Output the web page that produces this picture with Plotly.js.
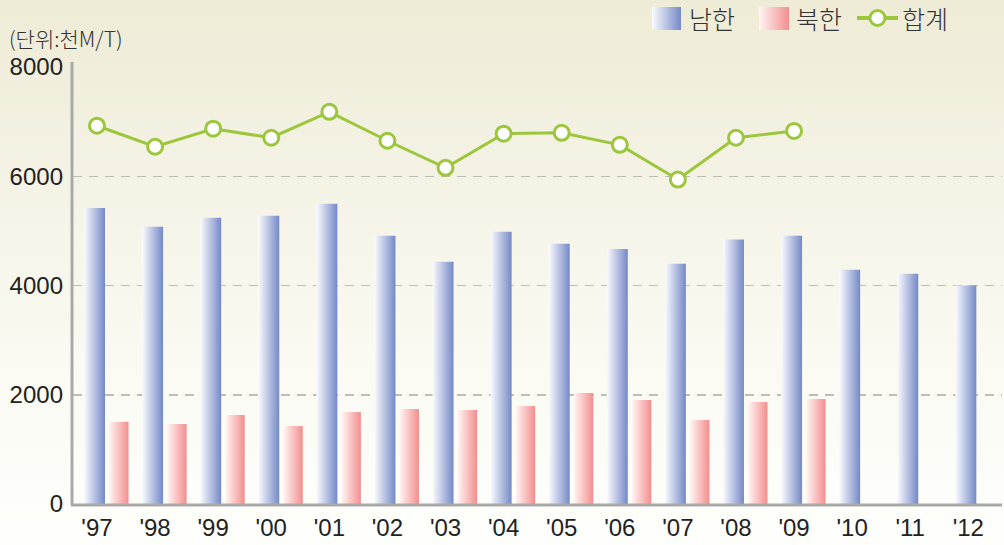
<!DOCTYPE html>
<html>
<head>
<meta charset="utf-8">
<script src="https://cdn.plot.ly/plotly-3.0.1.min.js"></script>
<style>
  html, body { margin: 0; padding: 0; }
  #chart { width: 1004px; height: 545px; background: linear-gradient(to bottom, #eeebd6 0%, #f5f3e6 35%, #fbfbf4 70%, #fefefc 100%); }
</style>
</head>
<body>
<div id="chart"></div>
<script>
// ---- data ----
var years = ["'97","'98","'99","'00","'01","'02","'03","'04","'05","'06","'07","'08","'09","'10","'11","'12"];
var south = [5420, 5075, 5240, 5275, 5495, 4910, 4435, 4985, 4765, 4670, 4400, 4840, 4910, 4290, 4215, 4000];
var north = [1505, 1465, 1630, 1430, 1685, 1740, 1720, 1795, 2030, 1905, 1540, 1865, 1920, null, null, null];
var total = [6925, 6540, 6870, 6705, 7180, 6650, 6155, 6780, 6795, 6575, 5940, 6705, 6830, null, null, null];
var seriesNames = ["남한", "북한", "합계"];
var unitLabel = "(단위:천M/T)";
var yTicks = [0, 2000, 4000, 6000, 8000];

// ---- layout helpers (pixel -> paper) ----
var W = 1004, H = 545, ML = 73, MR = 2, MT = 67, MB = 41;
var PW = W - ML - MR, PH = H - MT - MB;
function px(x) { return (x - ML) / PW; }
function py(y) { return (H - MB - y) / PH; }

var green = '#9cc63b';
var txt = '#222222';
var fontLatin = 'Liberation Sans, Arial, sans-serif';
var fontKr = 'Noto Sans CJK KR, sans-serif';

var traces = [
  { type: 'bar', name: seriesNames[0], x: years, y: south, offset: -0.224, width: 0.362,
    marker: { color: '#7f93cc' }, showlegend: false, hoverinfo: 'none' },
  { type: 'bar', name: seriesNames[1], x: years, y: north, offset: 0.207, width: 0.336,
    marker: { color: '#f49a9a' }, showlegend: false, hoverinfo: 'none' },
  { type: 'scatter', mode: 'lines+markers', name: seriesNames[2], x: years, y: total,
    line: { color: green, width: 3 },
    marker: { symbol: 'circle', size: 15, color: '#ffffff', line: { color: green, width: 3 } },
    showlegend: false, hoverinfo: 'none', cliponaxis: false }
];

var layout = {
  width: W, height: H,
  margin: { l: ML, r: MR, t: MT, b: MB, pad: 0 },
  paper_bgcolor: 'rgba(0,0,0,0)',
  plot_bgcolor: 'rgba(0,0,0,0)',
  barmode: 'overlay',
  showlegend: false,
  xaxis: {
    type: 'category',
    range: [-0.413, 15.58],
    showgrid: false, zeroline: false,
    showline: false,
    ticks: '',
    tickfont: { family: fontLatin, size: 24, color: txt },
    ticklabelstandoff: 7,
    fixedrange: true
  },
  yaxis: {
    range: [0, 8000],
    tickvals: yTicks,
    ticktext: yTicks.map(String),
    showgrid: true, gridcolor: '#bcbcb8', gridwidth: 1.5, griddash: '9px,7px',
    zeroline: false,
    showline: false,
    ticks: '',
    tickfont: { family: fontLatin, size: 24, color: txt },
    ticklabelstandoff: 9,
    fixedrange: true
  },
  shapes: [
    // y axis line
    { type: 'line', xref: 'paper', yref: 'paper', x0: px(72), x1: px(72), y0: py(62), y1: py(505), line: { color: '#a9a9a9', width: 3 }, layer: 'above' },
    // x axis line
    { type: 'line', xref: 'paper', yref: 'paper', x0: px(71), x1: px(1002), y0: py(505), y1: py(505), line: { color: '#a9a9a9', width: 3 }, layer: 'above' },
    // legend swatches
    { type: 'rect', xref: 'paper', yref: 'paper', x0: px(652), x1: px(681), y0: py(7), y1: py(30), fillcolor: '#7f93cc', line: { width: 0 } },
    { type: 'rect', xref: 'paper', yref: 'paper', x0: px(759), x1: px(789), y0: py(7), y1: py(30), fillcolor: '#f49a9a', line: { width: 0 } },
    { type: 'line', xref: 'paper', yref: 'paper', x0: px(857), x1: px(898), y0: py(18), y1: py(18), line: { color: green, width: 4 } },
    { type: 'circle', xref: 'paper', yref: 'paper', x0: px(870), x1: px(885), y0: py(10.5), y1: py(25.5), fillcolor: '#ffffff', line: { color: green, width: 3 } }
  ],
  annotations: [
    { xref: 'paper', yref: 'paper', x: px(7), y: py(38), xanchor: 'left', yanchor: 'middle', showarrow: false,
      text: unitLabel, font: { family: fontKr, size: 21, color: '#333', weight: 300 } },
    { xref: 'paper', yref: 'paper', x: px(687), y: py(18), xanchor: 'left', yanchor: 'middle', showarrow: false,
      text: seriesNames[0], font: { family: fontKr, size: 25, color: '#333', weight: 300 } },
    { xref: 'paper', yref: 'paper', x: px(794), y: py(18), xanchor: 'left', yanchor: 'middle', showarrow: false,
      text: seriesNames[1], font: { family: fontKr, size: 25, color: '#333', weight: 300 } },
    { xref: 'paper', yref: 'paper', x: px(900), y: py(18), xanchor: 'left', yanchor: 'middle', showarrow: false,
      text: seriesNames[2], font: { family: fontKr, size: 25, color: '#333', weight: 300 } }
  ]
};

var gd = document.getElementById('chart');
Plotly.newPlot(gd, traces, layout, { staticPlot: true, displayModeBar: false }).then(function () {
  var svg = gd.querySelector('svg.main-svg');
  var ns = 'http://www.w3.org/2000/svg';
  var defs = svg.querySelector('defs') || svg.insertBefore(document.createElementNS(ns, 'defs'), svg.firstChild);
  function addGrad(id, c0, c1) {
    var g = document.createElementNS(ns, 'linearGradient');
    g.setAttribute('id', id);
    g.setAttribute('x1', '0'); g.setAttribute('x2', '1'); g.setAttribute('y1', '0'); g.setAttribute('y2', '0');
    [[0, c0], [1, c1]].forEach(function (s) {
      var st = document.createElementNS(ns, 'stop');
      st.setAttribute('offset', s[0]);
      st.setAttribute('stop-color', s[1]);
      g.appendChild(st);
    });
    defs.appendChild(g);
  }
  addGrad('gradSouth', '#fbfbfe', '#7489c6');
  addGrad('gradNorth', '#fff6f4', '#f38e8e');
  var barTraces = gd.querySelectorAll('.barlayer .trace');
  var fills = ['url(#gradSouth)', 'url(#gradNorth)'];
  barTraces.forEach(function (t, i) {
    t.querySelectorAll('path').forEach(function (p) { p.style.fill = fills[i]; });
  });
  gd.querySelectorAll('.shapelayer path').forEach(function (p) {
    var idx = p.getAttribute('data-index');
    if (idx === '2') p.style.fill = fills[0];
    if (idx === '3') p.style.fill = fills[1];
  });
});
</script>
</body>
</html>
